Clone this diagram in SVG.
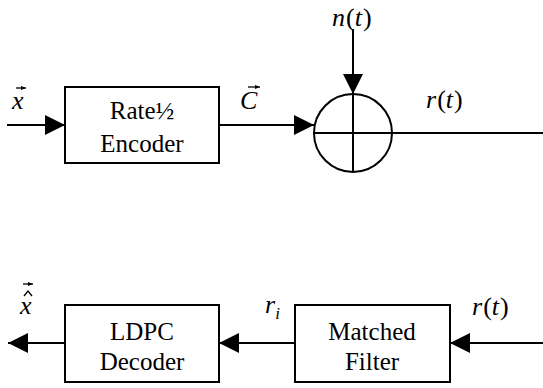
<svg xmlns="http://www.w3.org/2000/svg" width="543" height="388" viewBox="0 0 543 388" font-family="serif">
<style>
.box{fill:#fff;stroke:#000;stroke-width:2}
.ln{fill:none;stroke:#000;stroke-width:2}
.vec{fill:none;stroke:#000;stroke-width:1.3}
</style>
<defs>
<marker id="ah" markerWidth="20" markerHeight="20" refX="20" refY="10" orient="auto" markerUnits="userSpaceOnUse" viewBox="0 0 20 20">
<path d="M0,0 L20,10 L0,20 Z" fill="#000"/>
</marker>
<marker id="va" markerWidth="5" markerHeight="4" refX="5" refY="2" orient="auto" markerUnits="userSpaceOnUse" viewBox="0 0 5 4">
<path d="M0,0 L5,2 L0,4 Z" fill="#000"/>
</marker>
</defs>
<g id="connectors">
<line class="ln" x1="7" y1="125" x2="65" y2="125" marker-end="url(#ah)"/>
<line class="ln" x1="219" y1="125" x2="314" y2="125" marker-end="url(#ah)"/>
<line class="ln" x1="353" y1="29" x2="353" y2="94" marker-end="url(#ah)"/>
<line class="ln" x1="392" y1="133" x2="543" y2="133"/>
<line class="ln" x1="543" y1="343" x2="450" y2="343" marker-end="url(#ah)"/>
<line class="ln" x1="295" y1="343" x2="219" y2="343" marker-end="url(#ah)"/>
<line class="ln" x1="65" y1="343" x2="8" y2="343" marker-end="url(#ah)"/>
</g>
<g id="encoder">
<rect class="box" x="65" y="87" width="154" height="76"/>
<text x="142" y="119" font-family="Liberation Serif" font-size="25" text-anchor="middle">Rate&#189;</text>
<text x="142" y="152" font-family="Liberation Serif" font-size="25" text-anchor="middle">Encoder</text>
</g>
<g id="adder">
<circle class="ln" cx="353" cy="133" r="39"/>
<line class="ln" x1="314" y1="133" x2="392" y2="133"/>
<line class="ln" x1="353" y1="94" x2="353" y2="172"/>
</g>
<g id="decoder">
<rect class="box" x="65" y="305" width="154" height="77"/>
<text x="142" y="340" font-family="Liberation Serif" font-size="25" text-anchor="middle">LDPC</text>
<text x="142" y="370" font-family="Liberation Serif" font-size="25" text-anchor="middle">Decoder</text>
</g>
<g id="matched-filter">
<rect class="box" x="295" y="305" width="155" height="77"/>
<text x="372" y="340" font-family="Liberation Serif" font-size="25" text-anchor="middle">Matched</text>
<text x="372" y="370" font-family="Liberation Serif" font-size="25" text-anchor="middle">Filter</text>
</g>
<g id="labels">
<text x="12" y="109" font-family="Liberation Serif" font-size="26" font-style="italic">x</text>
<text x="240" y="109" font-family="Liberation Serif" font-size="26" font-style="italic">C</text>
<text x="332" y="26" font-family="Liberation Serif" font-size="26" font-style="italic">n<tspan font-style="normal" dx="1">(</tspan>t<tspan font-style="normal" dx="1">)</tspan></text>
<text x="426" y="108" font-family="Liberation Serif" font-size="26" font-style="italic">r<tspan font-style="normal" dx="1">(</tspan>t<tspan font-style="normal" dx="1">)</tspan></text>
<text x="20" y="314" font-family="Liberation Serif" font-size="26" font-style="italic">x</text>
<text x="265" y="313" font-family="Liberation Serif" font-size="26" font-style="italic">r<tspan font-size="17" dy="6">i</tspan></text>
<text x="472" y="315" font-family="Liberation Serif" font-size="26" font-style="italic">r<tspan font-style="normal" dx="1">(</tspan>t<tspan font-style="normal" dx="1">)</tspan></text>
<line class="vec" x1="16" y1="88" x2="26" y2="88" marker-end="url(#va)"/>
<line class="vec" x1="248" y1="87" x2="260" y2="87" marker-end="url(#va)"/>
<polyline class="vec" points="24,296 28,291 32,296"/>
<line class="vec" x1="23" y1="284" x2="33" y2="284" marker-end="url(#va)"/>
</g>
</svg>
